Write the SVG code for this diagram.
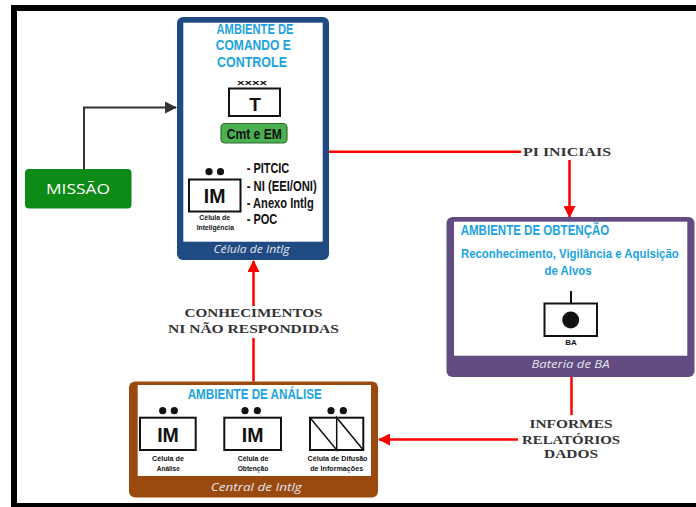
<svg xmlns="http://www.w3.org/2000/svg" width="696" height="507" viewBox="0 0 696 507">
<defs>
<marker id="ar" markerUnits="userSpaceOnUse" markerWidth="12" markerHeight="12" viewBox="0 0 12 12" refX="11" refY="6" orient="auto"><path d="M0,0 L12,6 L0,12 z" fill="#ff0000"/></marker>
<marker id="ak" markerUnits="userSpaceOnUse" markerWidth="12" markerHeight="12" viewBox="0 0 12 12" refX="11" refY="6" orient="auto"><path d="M0,0 L12,6 L0,12 z" fill="#333333"/></marker>
<style>
.title{font-family:"Liberation Sans",Arial,sans-serif;font-weight:bold;fill:#1ba3e0;font-size:14px}
.sub{font-family:"Liberation Sans",Arial,sans-serif;font-weight:bold;fill:#1ba3e0;font-size:11.4px}
.cap{font-family:"Open Sans",sans-serif;font-style:italic;font-size:11.5px;fill:#e4e4ee}
.lbl{font-family:"Liberation Serif","Times New Roman",serif;font-weight:bold;font-size:13px;fill:#333333}
.blk{font-family:"Liberation Sans",Arial,sans-serif;font-weight:bold;fill:#111111}
.tiny{font-family:"Liberation Sans",Arial,sans-serif;font-weight:bold;fill:#111111;font-size:6.5px}
.box{fill:#ffffff;stroke:#111111;stroke-width:2}
.red{stroke:#ff0000;stroke-width:2.5;fill:none}
.dot{fill:#111111}
</style>
</defs>
<rect x="0" y="0" width="696" height="507" fill="#ffffff"/>
<g id="frame">
<rect x="11" y="5" width="685" height="6" fill="#000"/>
<rect x="11" y="5" width="6" height="502" fill="#000"/>
<rect x="11" y="503" width="685" height="4" fill="#000"/>
</g>

<g id="connectors">
<path d="M84,169 V107.5 H176" fill="none" stroke="#333333" stroke-width="2" marker-end="url(#ak)"/>
<path class="red" d="M329,151.7 H521"/>
<path class="red" d="M569.5,160 V217" marker-end="url(#ar)"/>
<path class="red" d="M253.5,381.5 V338"/>
<path class="red" d="M253.5,306 V261" marker-end="url(#ar)"/>
<path class="red" d="M571.5,377 V415"/>
<path class="red" d="M518,439.5 H379" marker-end="url(#ar)"/>
<text class="lbl" x="523" y="156" textLength="88" lengthAdjust="spacingAndGlyphs">PI INICIAIS</text>
<text class="lbl" x="253.5" y="317" text-anchor="middle" textLength="138" lengthAdjust="spacingAndGlyphs">CONHECIMENTOS</text>
<text class="lbl" x="253.5" y="333" text-anchor="middle" textLength="171" lengthAdjust="spacingAndGlyphs">NI NÃO RESPONDIDAS</text>
<text class="lbl" x="571" y="428.3" text-anchor="middle" textLength="83" lengthAdjust="spacingAndGlyphs">INFORMES</text>
<text class="lbl" x="571" y="444" text-anchor="middle" textLength="98" lengthAdjust="spacingAndGlyphs">RELATÓRIOS</text>
<text class="lbl" x="571" y="457.7" text-anchor="middle" textLength="54" lengthAdjust="spacingAndGlyphs">DADOS</text>
</g>

<g id="missao">
<rect x="25" y="169" width="106.5" height="39.5" rx="4" fill="#0e8a17"/>
<text x="78" y="194" text-anchor="middle" font-family="Open Sans, sans-serif" font-size="15" fill="#ffffff" textLength="64" lengthAdjust="spacingAndGlyphs">MISSÃO</text>
</g>

<g id="comando">
<rect x="177" y="17" width="152" height="243" rx="6" fill="#1f4b82"/>
<rect x="183.3" y="22.7" width="139.4" height="219" fill="#ffffff"/>
<text class="title" x="255" y="34" text-anchor="middle" textLength="77" lengthAdjust="spacingAndGlyphs">AMBIENTE DE</text>
<text class="title" x="253.3" y="49.5" text-anchor="middle" textLength="75" lengthAdjust="spacingAndGlyphs">COMANDO E</text>
<text class="title" x="252" y="66.5" text-anchor="middle" textLength="70" lengthAdjust="spacingAndGlyphs">CONTROLE</text>
<text class="blk" x="252" y="85" font-size="8" text-anchor="middle" textLength="30" lengthAdjust="spacingAndGlyphs">xxxx</text>
<rect class="box" x="229" y="88.5" width="51" height="27.5"/>
<text class="blk" x="255" y="111" font-size="19" text-anchor="middle">T</text>
<rect x="221" y="123.5" width="66" height="19.5" rx="4" fill="#4caf50" stroke="#2e6b2f" stroke-width="1.2"/>
<text class="blk" x="254.3" y="138.5" font-size="14" text-anchor="middle" textLength="55" lengthAdjust="spacingAndGlyphs">Cmt e EM</text>
<circle class="dot" cx="209" cy="171.7" r="3.6"/>
<circle class="dot" cx="220.5" cy="171.7" r="3.6"/>
<rect class="box" x="189" y="179.5" width="51.5" height="32"/>
<text class="blk" x="214.7" y="203" font-size="19.5" text-anchor="middle">IM</text>
<text class="tiny" x="214.7" y="220" text-anchor="middle" textLength="30.7" lengthAdjust="spacingAndGlyphs">Célula de</text>
<text class="tiny" x="215.3" y="230" text-anchor="middle" textLength="37.3" lengthAdjust="spacingAndGlyphs">Inteligência</text>
<text class="blk" x="246.7" y="173.3" font-size="14" textLength="42.6" lengthAdjust="spacingAndGlyphs">- PITCIC</text>
<text class="blk" x="246.7" y="190.5" font-size="14" textLength="70" lengthAdjust="spacingAndGlyphs">- NI (EEI/ONI)</text>
<text class="blk" x="246.7" y="207.5" font-size="14" textLength="67" lengthAdjust="spacingAndGlyphs">- Anexo Intlg</text>
<text class="blk" x="246.7" y="224" font-size="14" textLength="30.6" lengthAdjust="spacingAndGlyphs">- POC</text>
<text class="cap" x="251.5" y="252.7" text-anchor="middle" textLength="76" lengthAdjust="spacingAndGlyphs">Célula de Intlg</text>
</g>

<g id="obtencao">
<rect x="446.5" y="217" width="248" height="160" rx="6" fill="#614b80"/>
<rect x="454" y="221.7" width="233.3" height="134" fill="#ffffff"/>
<text class="title" x="460.7" y="235" textLength="148.6" lengthAdjust="spacingAndGlyphs">AMBIENTE DE OBTENÇÃO</text>
<text class="sub" transform="translate(569.8,258.3) scale(1,1.12)" x="0" y="0" text-anchor="middle">Reconhecimento, Vigilância e Aquisição</text>
<text class="sub" transform="translate(568,275) scale(1,1.12)" x="0" y="0" text-anchor="middle">de Alvos</text>
<line x1="571" y1="291" x2="571" y2="303.5" stroke="#111" stroke-width="2"/>
<rect class="box" x="544.5" y="303.5" width="52.5" height="32.5"/>
<circle class="dot" cx="570.7" cy="320" r="8.5"/>
<text class="blk" x="571" y="345" font-size="8" text-anchor="middle">BA</text>
<text class="cap" x="570.5" y="368.3" text-anchor="middle" textLength="78" lengthAdjust="spacingAndGlyphs">Bateria de BA</text>
</g>

<g id="analise">
<rect x="129" y="381.5" width="249" height="116" rx="6" fill="#9a4a0f"/>
<rect x="137.7" y="385" width="233.3" height="91" fill="#ffffff"/>
<text class="title" x="254.7" y="399" text-anchor="middle" textLength="134" lengthAdjust="spacingAndGlyphs">AMBIENTE DE ANÁLISE</text>
<circle class="dot" cx="162.7" cy="410.7" r="3.6"/>
<circle class="dot" cx="174.3" cy="410.7" r="3.6"/>
<rect class="box" x="140" y="417.7" width="55.7" height="32.3"/>
<text class="blk" x="168" y="441.7" font-size="19.5" text-anchor="middle">IM</text>
<text class="tiny" x="168" y="460.7" text-anchor="middle" textLength="32" lengthAdjust="spacingAndGlyphs">Célula de</text>
<text class="tiny" x="168.3" y="470.7" text-anchor="middle" textLength="23" lengthAdjust="spacingAndGlyphs">Análise</text>
<circle class="dot" cx="245" cy="410.7" r="3.6"/>
<circle class="dot" cx="257.3" cy="410.7" r="3.6"/>
<rect class="box" x="224.3" y="417.7" width="56.7" height="32.3"/>
<text class="blk" x="252.7" y="441.7" font-size="19.5" text-anchor="middle">IM</text>
<text class="tiny" x="253" y="460.7" text-anchor="middle" textLength="30.6" lengthAdjust="spacingAndGlyphs">Célula de</text>
<text class="tiny" x="253" y="470.7" text-anchor="middle" textLength="30.6" lengthAdjust="spacingAndGlyphs">Obtenção</text>
<circle class="dot" cx="331" cy="410.7" r="3.6"/>
<circle class="dot" cx="343.3" cy="410.7" r="3.6"/>
<rect class="box" x="310" y="417.7" width="53.3" height="32.3"/>
<polyline points="310,417.7 336.7,450 336.7,417.7 363.3,450" fill="none" stroke="#111" stroke-width="1.5"/>
<text class="tiny" x="337.5" y="460.7" text-anchor="middle" textLength="60" lengthAdjust="spacingAndGlyphs">Célula de Difusão</text>
<text class="tiny" x="336.7" y="470.7" text-anchor="middle" textLength="53" lengthAdjust="spacingAndGlyphs">de Informações</text>
<text class="cap" x="256.3" y="490.7" text-anchor="middle" textLength="91" lengthAdjust="spacingAndGlyphs">Central de Intlg</text>
</g>
</svg>
